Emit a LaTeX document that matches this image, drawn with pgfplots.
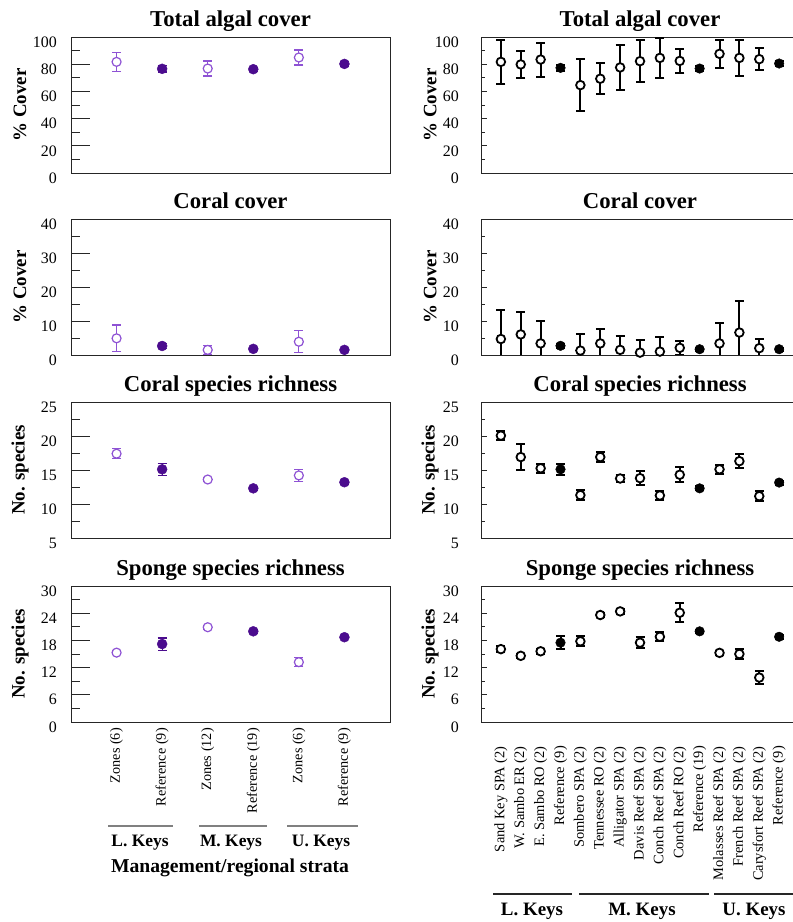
\documentclass[border=0pt]{standalone}
\usepackage{fontspec}
\setmainfont{Liberation Serif}
\usepackage{pgfplots}
\pgfplotsset{compat=1.18}

\definecolor{openpurple}{HTML}{8E52D4}
\definecolor{fillpurple}{HTML}{4B0C8E}

\pgfplotsset{
  panel/.style={
    scale only axis, height=136bp,
    axis line style={line width=0.9bp, black!85},
    ytick pos=left, tick align=inside, minor y tick num=1,
    ytick style={line width=0.9bp, black!85},
    xtick=\empty,
    /pgf/number format/assume math mode=true,
    yticklabel style={font=\fontsize{16}{18}\selectfont, inner sep=0pt, yshift=-5bp},
    title style={font=\fontsize{22.8}{25}\selectfont\bfseries, at={(0.5,1)}, anchor=base, yshift=5bp},
    ylabel style={font=\fontsize{19}{21}\selectfont\bfseries, at={(axis description cs:-0.16,0.5)}, anchor=center},
  },
  leftpanel/.style={panel, width=319bp, xmin=0, xmax=7,
    major tick length=19bp, minor tick length=9bp,
    yticklabel style={xshift=-14bp}},
  rightpanel/.style={panel, width=318bp, xmin=0, xmax=16,
    major tick length=6bp, minor tick length=4bp,
    yticklabel style={xshift=-22bp}},
  lopen/.style={only marks, mark=*, mark size=4.5bp,
    mark options={draw=openpurple, fill=white, line width=1.2bp},
    error bars/.cd, y dir=both, y explicit,
    error bar style={openpurple, line width=1.2bp},
    error mark options={rotate=90, openpurple, mark size=4.5bp, line width=1.2bp}},
  lfill/.style={only marks, mark=*, mark size=5bp,
    mark options={draw=fillpurple, fill=fillpurple},
    error bars/.cd, y dir=both, y explicit,
    error bar style={fillpurple, line width=1.2bp},
    error mark options={rotate=90, fillpurple, mark size=4.5bp, line width=1.2bp}},
  ropen/.style={only marks, mark=*, mark size=4.3bp,
    mark options={draw=black, fill=white, line width=1.8bp},
    error bars/.cd, y dir=both, y explicit,
    error bar style={black, line width=2bp},
    error mark options={rotate=90, black, mark size=4.5bp, line width=2bp}},
  rfill/.style={only marks, mark=*, mark size=4.8bp,
    mark options={draw=black, fill=black},
    error bars/.cd, y dir=both, y explicit,
    error bar style={black, line width=2bp},
    error mark options={rotate=90, black, mark size=4.5bp, line width=2bp}},
}

\begin{document}
\begin{tikzpicture}[x=1bp, y=1bp]

% ---------- left column ----------
\begin{axis}[leftpanel, at={(71bp,749bp)}, anchor=south west,
  title=Total algal cover, ylabel={\% Cover},
  ymin=0, ymax=100, ytick={0,20,...,100}]
\addplot+[lopen] coordinates {(1,81.7) +- (0,7) (3,76.8) +- (0,5.5) (5,84.9) +- (0,5.5)};
\addplot+[lfill] coordinates {(2,76.6) +- (0,2.3) (4,76.3) +- (0,1.5) (6,80.2) +- (0,1.5)};
\end{axis}

\begin{axis}[leftpanel, at={(71bp,567bp)}, anchor=south west,
  title=Coral cover, ylabel={\% Cover},
  ymin=0, ymax=40, ytick={0,10,...,40}]
\addplot+[lopen] coordinates {(1,4.9) +- (0,3.9) (3,1.5) +- (0,1.4) (5,3.9) +- (0,3.2)};
\addplot+[lfill] coordinates {(2,2.65) +- (0,0.8) (4,1.8) +- (0,0.5) (6,1.5) +- (0,0.4)};
\end{axis}

\begin{axis}[leftpanel, at={(71bp,384bp)}, anchor=south west,
  title=Coral species richness, ylabel={No. species},
  ymin=5, ymax=25, ytick={5,10,...,25}]
\addplot+[lopen] coordinates {(1,17.4) +- (0,0.75) (3,13.6) +- (0,0.3) (5,14.2) +- (0,0.85)};
\addplot+[lfill] coordinates {(2,15.1) +- (0,0.9) (4,12.3) +- (0,0.3) (6,13.2) +- (0,0.3)};
\end{axis}

\begin{axis}[leftpanel, at={(71bp,200bp)}, anchor=south west,
  title=Sponge species richness, ylabel={No. species},
  ymin=0, ymax=30, ytick={0,6,...,30},
  xtick={1,...,6}, xtick style={draw=none},
  xticklabels={Zones (6), Reference (9), Zones (12), Reference (19), Zones (6), Reference (9)},
  xticklabel style={rotate=90, anchor=east, inner sep=0pt, font=\fontsize{14.3}{16}\selectfont},
  xticklabel shift=6bp]
\addplot+[lopen] coordinates {(1,15.3) +- (0,0.4) (3,20.9) +- (0,0.4) (5,13.2) +- (0,1.0)};
\addplot+[lfill] coordinates {(2,17.2) +- (0,1.35) (4,20.0) +- (0,0.4) (6,18.7) +- (0,0.3)};
\end{axis}

% ---------- right column ----------
\begin{axis}[rightpanel, at={(481bp,749bp)}, anchor=south west,
  title=Total algal cover, ylabel={\% Cover},
  ymin=0, ymax=100, ytick={0,20,...,100}]
\addplot+[ropen] coordinates {
  (1,81.7) +- (0,16) (2,79.8) +- (0,10) (3,83.4) +- (0,12.5)
  (5,64.6) +- (0,19) (6,69.3) +- (0,11.5) (7,77.6) +- (0,16.5) (8,82.2) +- (0,15.5)
  (9,84.6) +- (0,15) (10,82.4) +- (0,9)
  (12,87.6) +- (0,10.5) (13,84.6) +- (0,13) (14,83.7) +- (0,8)};
\addplot+[rfill] coordinates {(4,77.3) +- (0,2) (11,76.8) +- (0,2) (15,80.5) +- (0,1.5)};
\end{axis}

\begin{axis}[rightpanel, at={(481bp,567bp)}, anchor=south west,
  title=Coral cover, ylabel={\% Cover},
  ymin=0, ymax=40, ytick={0,10,...,40}]
\addplot+[ropen] coordinates {
  (1,4.7) +- (0,8.6) (2,6.05) +- (0,6.45) (3,3.4) +- (0,6.6)
  (5,1.3) +- (0,4.75) (6,3.4) +- (0,4.2) (7,1.5) +- (0,4.1) (8,0.7) +- (0,3.7)
  (9,1.0) +- (0,4.2) (10,2.1) +- (0,2.0)
  (12,3.4) +- (0,6.0) (13,6.6) +- (0,9.4) (14,2.0) +- (0,2.7)};
\addplot+[rfill] coordinates {(4,2.7) +- (0,0.5) (11,1.7) +- (0,0.4) (15,1.7) +- (0,0.4)};
\end{axis}

\begin{axis}[rightpanel, at={(481bp,384bp)}, anchor=south west,
  title=Coral species richness, ylabel={No. species},
  ymin=5, ymax=25, ytick={5,10,...,25}]
\addplot+[ropen] coordinates {
  (1,20.05) +- (0,0.7) (2,16.9) +- (0,1.9) (3,15.25) +- (0,0.7)
  (5,11.3) +- (0,0.7) (6,16.9) +- (0,0.7) (7,13.75) +- (0,0.5) (8,13.8) +- (0,1.05)
  (9,11.25) +- (0,0.7) (10,14.3) +- (0,1.1)
  (12,15.1) +- (0,0.7) (13,16.3) +- (0,1.0) (14,11.15) +- (0,0.7)};
\addplot+[rfill] coordinates {(4,15.1) +- (0,0.8) (11,12.3) +- (0,0.3) (15,13.15) +- (0,0.3)};
\end{axis}

\begin{axis}[rightpanel, at={(481bp,200bp)}, anchor=south west,
  title=Sponge species richness, ylabel={No. species},
  ymin=0, ymax=30, ytick={0,6,...,30},
  xtick={1,...,15}, xtick style={draw=none},
  xticklabels={Sand Key SPA (2), W. Sambo ER (2), E. Sambo RO (2), Reference (9),
    Sombero SPA (2), Tennessee RO (2), Alligator SPA (2), Davis Reef SPA (2),
    Conch Reef SPA (2), Conch Reef RO (2), Reference (19),
    Molasses Reef SPA (2), French Reef SPA (2), Carysfort Reef SPA (2), Reference (9)},
  xticklabel style={rotate=90, anchor=east, inner sep=0pt, font=\fontsize{14.5}{16}\selectfont},
  xticklabel shift=24bp]
\addplot+[ropen] coordinates {
  (1,16.07) +- (0,0.6) (2,14.6) +- (0,0.5) (3,15.6) +- (0,0.5)
  (5,17.8) +- (0,1.1) (6,23.6) +- (0,0.5) (7,24.4) +- (0,0.6) (8,17.5) +- (0,1.2)
  (9,18.8) +- (0,1.0) (10,24.1) +- (0,2.1)
  (12,15.25) +- (0,0.5) (13,15.0) +- (0,1.2) (14,9.8) +- (0,1.5)};
\addplot+[rfill] coordinates {(4,17.5) +- (0,1.4) (11,20.0) +- (0,0.4) (15,18.8) +- (0,0.4)};
\end{axis}

% ---------- group annotations ----------
\draw[gray, line width=1.5bp] (108,96) -- (173,96) (199,96) -- (267,96) (287,96) -- (358,96);
\begin{scope}[every node/.style={font=\fontsize{17.5}{19}\selectfont\bfseries, anchor=base, inner sep=0pt}]
  \node at (140,75) {L. Keys};
  \node at (231,75) {M. Keys};
  \node at (321,75) {U. Keys};
\end{scope}
\node[font=\fontsize{19.7}{21}\selectfont\bfseries, anchor=base, inner sep=0pt] at (230,49.5) {Management/regional strata};

\draw[black!85, line width=1.5bp] (493,28) -- (572,28) (579,28) -- (709,28) (714,28) -- (800,28);
\begin{scope}[every node/.style={font=\fontsize{19}{21}\selectfont\bfseries, anchor=base, inner sep=0pt}]
  \node at (532,6) {L. Keys};
  \node at (642,6) {M. Keys};
  \node at (754,6) {U. Keys};
\end{scope}

\pgfresetboundingbox
\path[use as bounding box] (0,0) rectangle (793,922);
\end{tikzpicture}
\end{document}
